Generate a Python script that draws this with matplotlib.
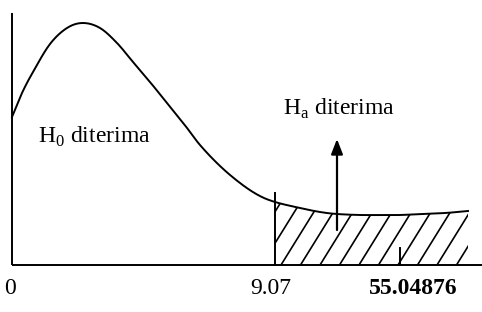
import numpy as np
import matplotlib
matplotlib.use("Agg")
import matplotlib.pyplot as plt
from matplotlib.patches import Polygon

# Curve (x, y in picture units, y grows downward)
curve_x = [12, 22, 33, 50, 67, 83, 100, 117, 133, 150, 167, 184, 200, 220, 240, 258, 275, 300, 320, 337, 360, 380, 400, 420, 445, 468]
curve_y = [117, 93, 72, 44, 28, 23, 28, 43, 62, 82, 103, 124, 145, 166, 183, 195, 202, 208, 212, 214, 215, 215, 215, 214, 213, 211]

# Axis labels
tick_pos = [12, 275, 400]
tick_labels = ["0", "9.07", "55.04876"]

crit_x = 275
stat_x = 400
arrow_x = 337

plt.rcParams['mathtext.fontset'] = 'custom'
plt.rcParams['mathtext.rm'] = 'Liberation Serif'


def catmull_rom(xs, ys, n=12):
    p = np.column_stack([xs, ys]).astype(float)
    p = np.vstack([2 * p[0] - p[1], p, 2 * p[-1] - p[-2]])
    out = []
    t = np.linspace(0, 1, n, endpoint=False)[:, None]
    for i in range(1, len(p) - 2):
        p0, p1, p2, p3 = p[i - 1], p[i], p[i + 1], p[i + 2]
        seg = 0.5 * ((2 * p1) + (-p0 + p2) * t + (2 * p0 - 5 * p1 + 4 * p2 - p3) * t ** 2
                     + (-p0 + 3 * p1 - 3 * p2 + p3) * t ** 3)
        out.append(seg)
    out.append(p[-2][None, :])
    out = np.vstack(out)
    return out[:, 0], out[:, 1]


fig = plt.figure(figsize=(4.82, 3.12), dpi=100)
ax = fig.add_axes([0, 0, 1, 1])
ax.set_xlim(0, 482)
ax.set_ylim(312, 0)
ax.axis('off')

base = 265
lw = 1.4

# axes
ax.plot([12, 12], [13, base], color='black', lw=lw, solid_capstyle='butt')
ax.plot([12, 482], [base, base], color='black', lw=lw, solid_capstyle='butt')

# smooth curve
sx, sy = catmull_rom(curve_x, curve_y)
ax.plot(sx, sy, color='black', lw=lw)

# critical value vertical line
ax.plot([crit_x, crit_x], [193, base], color='black', lw=lw)
# statistic tick
ax.plot([stat_x, stat_x], [248, base], color='black', lw=lw)

# hatched region
m = sx >= crit_x
poly = [(crit_x, base)] + list(zip(sx[m], sy[m])) + [(sx[m][-1], base)]
clip = Polygon(poly, closed=True, facecolor='none', edgecolor='none')
ax.add_patch(clip)
k = 0.62
for x0 in np.arange(crit_x - 150, 500, 19.5):
    ln, = ax.plot([x0, x0 + k * 80], [base, base - 80], color='black', lw=1.2)
    ln.set_clip_path(clip)

# arrow
ax.annotate('', xy=(arrow_x, 139), xytext=(arrow_x, 230),
            arrowprops=dict(arrowstyle='-|>,head_length=0.9,head_width=0.35',
                            color='black', lw=1.6, shrinkA=0, shrinkB=0))

serif = 'Liberation Serif'
fs = 17
ax.text(38, 143, r'H$_\mathregular{0}$ diterima', fontsize=fs, family=serif,
        ha='left', va='baseline')
ax.text(283, 115, r'H$_\mathregular{a}$ diterima', fontsize=fs, family=serif,
        ha='left', va='baseline')

ax.text(10, 294, tick_labels[0], fontsize=fs, family=serif, ha='center', va='baseline')
ax.text(271, 294, tick_labels[1], fontsize=fs, family=serif, ha='center', va='baseline')
ax.text(413, 294, tick_labels[2], fontsize=fs, family=serif, fontweight='bold',
        ha='center', va='baseline')

fig.savefig('out.png', dpi=100)
